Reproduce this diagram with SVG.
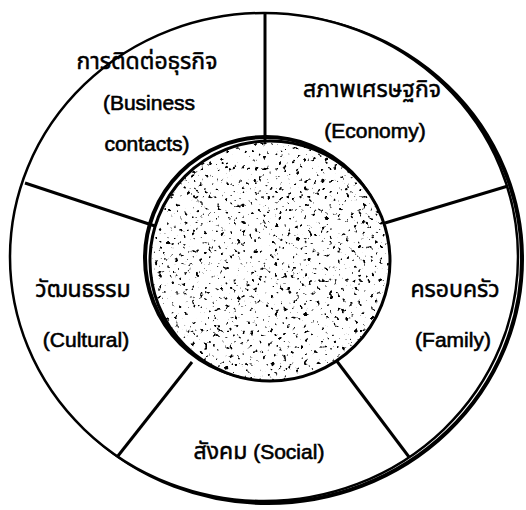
<svg xmlns="http://www.w3.org/2000/svg" width="526" height="510" viewBox="0 0 526 510">
<style>
.t{font-family:"Liberation Sans","Noto Sans Thai","Noto Sans","DejaVu Sans",sans-serif;font-size:21px;fill:#000;stroke:#000;stroke-width:0.6;text-anchor:middle}
.th{font-size:23px;stroke-width:0.5}
.div{stroke:#000;stroke-width:3;fill:none;stroke-linecap:butt}
</style>
<defs>
<filter id="speck" x="0" y="0" width="1" height="1" filterUnits="objectBoundingBox">
<feTurbulence type="fractalNoise" baseFrequency="0.24" numOctaves="2" seed="7" result="n"/>
<feColorMatrix in="n" type="matrix" values="0 0 0 0 0  0 0 0 0 0  0 0 0 0 0  1 0 0 0 0" result="a"/>
<feComponentTransfer in="a">
<feFuncA type="linear" slope="10" intercept="-6.3"/>
</feComponentTransfer>
</filter>
<clipPath id="innerClip"><circle cx="270" cy="261" r="119"/></clipPath>
</defs>
<rect width="526" height="510" fill="#fff"/>
<g id="outer-ring">
<ellipse cx="268" cy="259" rx="254" ry="244" fill="none" stroke="#000" stroke-width="4"/>
<ellipse cx="264" cy="257" rx="254" ry="244" fill="#fff" stroke="#000" stroke-width="2.5"/>
</g>
<g id="connectors">
<line class="div" x1="265" y1="14" x2="265" y2="145"/>
<line class="div" x1="25" y1="183" x2="155" y2="226"/>
<line class="div" x1="508" y1="186" x2="385" y2="223"/>
<line class="div" x1="117.5" y1="456.5" x2="192" y2="362"/>
<line class="div" x1="409" y1="457" x2="336" y2="360"/>
</g>
<g id="center">
<circle cx="266" cy="258" r="121" fill="none" stroke="#000" stroke-width="4"/>
<circle cx="270" cy="261" r="120" fill="#fff" stroke="#000" stroke-width="3"/>
<g clip-path="url(#innerClip)">
<rect x="150" y="141" width="240" height="240" fill="#000" filter="url(#speck)"/>
</g>
</g>
<g id="business">
<text class="t th" x="147" y="69">การติดต่อธุรกิจ</text>
<text class="t" x="149" y="110">(Business</text>
<text class="t" x="147" y="151">contacts)</text>
</g>
<g id="economy">
<text class="t th" x="372" y="97">สภาพเศรษฐกิจ</text>
<text class="t" x="375" y="138">(Economy)</text>
</g>
<g id="cultural">
<text class="t th" x="83" y="297">วัฒนธรรม</text>
<text class="t" x="86" y="347">(Cultural)</text>
</g>
<g id="family">
<text class="t th" x="455" y="297">ครอบครัว</text>
<text class="t" x="453" y="347">(Family)</text>
</g>
<g id="social">
<text class="t" x="259" y="459"><tspan style="font-size:23px;stroke-width:0.5">สังคม</tspan> (Social)</text>
</g>
</svg>
